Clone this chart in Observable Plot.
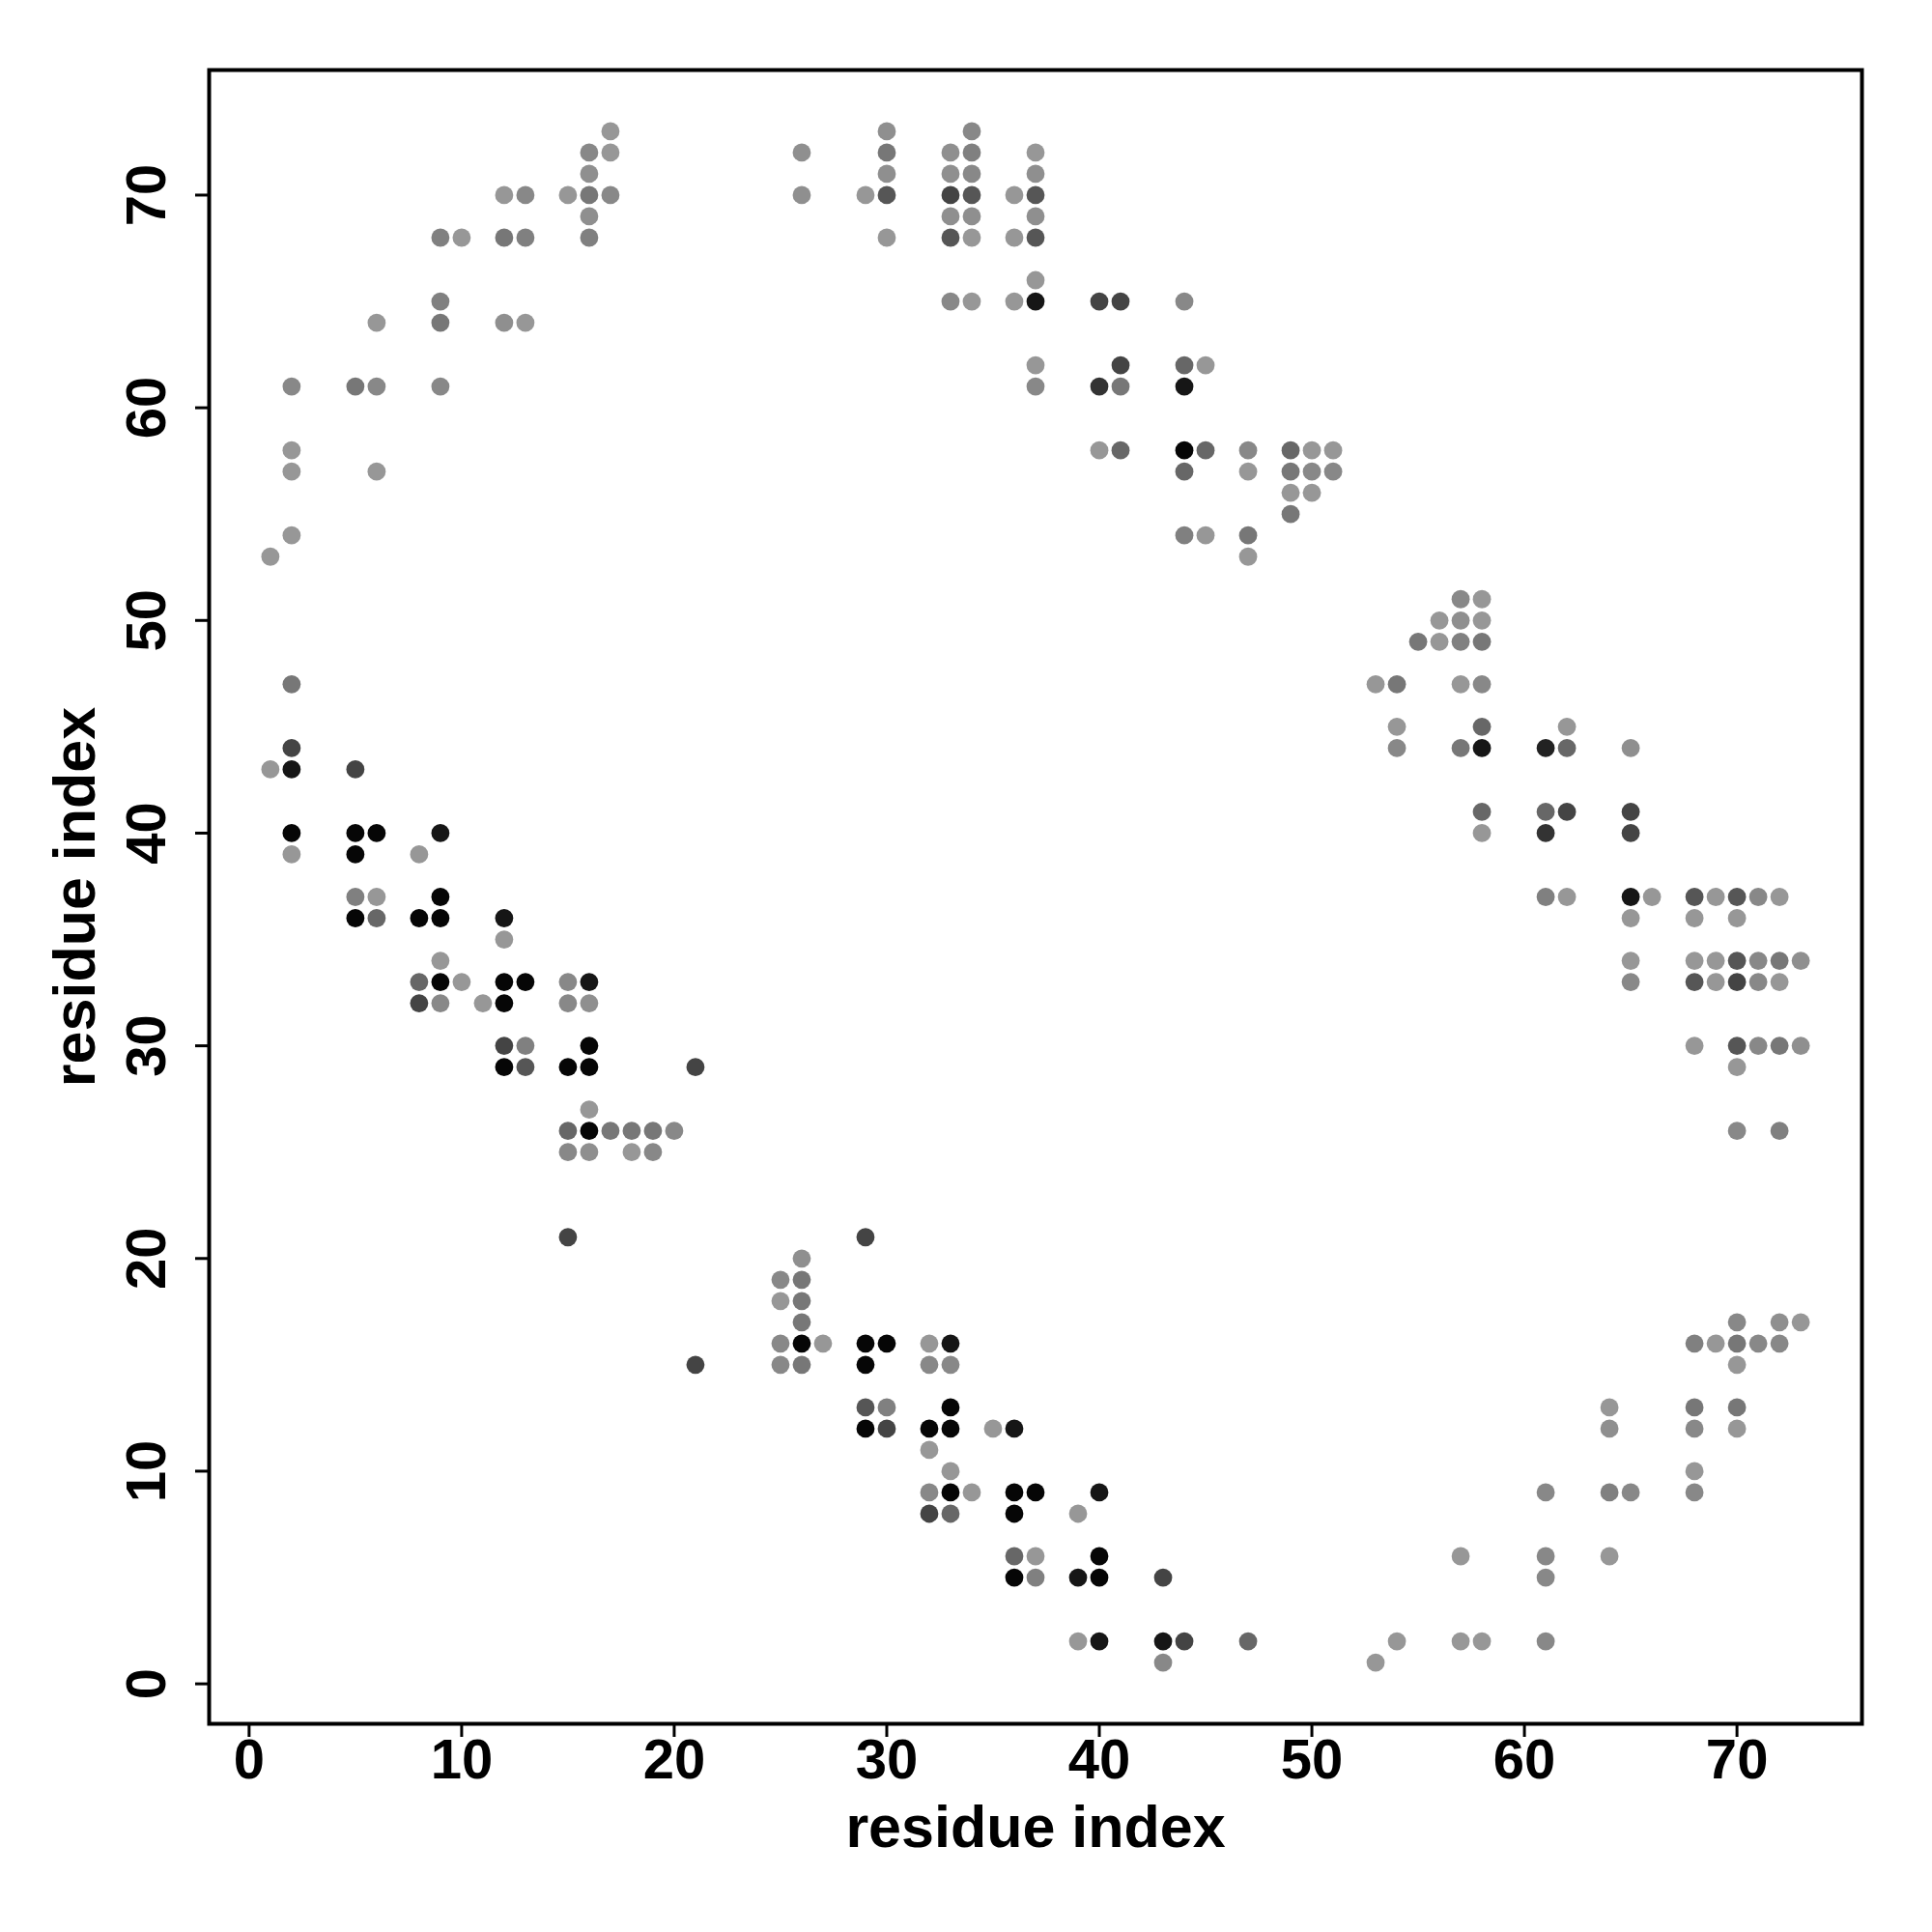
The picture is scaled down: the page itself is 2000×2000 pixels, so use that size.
<!DOCTYPE html>
<html>
<head>
<meta charset="utf-8">
<script src="https://cdn.jsdelivr.net/npm/d3@7"></script>
<script src="https://cdn.jsdelivr.net/npm/@observablehq/plot@0.6"></script>
<style>
  html, body { margin: 0; padding: 0; background: #ffffff; }
</style>
</head>
<body>
<div id="chart"></div>
<script>
// shade levels (contact strength, 0 = light grey, 1 = black)
const L = 0.02, ML = 0.07, M = 0.12, M2 = 0.17, D1 = 0.23, D2 = 0.33,
      D3 = 0.44, D4 = 0.56, D5 = 0.67, D6 = 0.78, K1 = 0.86, K = 0.96;

const residueI = [
  1,2,2,2,2,5,6,6,6,9,10,9,9,9,12,13,12,13,12,13,15,16,17,16,17,17,16,16,16,
  1,2,2,2,2,2,5,5,6,5,5,6,5,6,8,9,9,8,9,9,8,9,10,8,9,11,12,12,12,13,12,12,13,12,13,15,16,15,16,15,16,16,21,16,15,16,17,18,19,20,15,16,18,19,15,
  26,26,29,30,30,30,30,30,33,33,33,33,33,33,34,34,34,34,34,34,34,36,36,36,37,37,37,37,37,37,37,37,37,
  40,41,44,41,44,45,40,41,44,40,41,44,45,44,44,45,47,47,47,47,49,50,51,49,50,51,49,50,49,
  53,54,54,54,55,56,56,57,58,57,58,57,58,57,58,58,57,58,58,58,61,62,62,61,62,61,61,62,65,65,65,65,66,65,65,65,
  68,69,70,71,72,68,70,68,69,70,71,72,73,68,69,70,71,72,68,70,71,72,73,70,70,72,
  21,25,26,26,25,26,26,25,26,27,25,26,29,29,30,29,29,30,29,30,32,33,32,33,33,32,33,32,33,32,33,34,32,33,35,36,36,37,36,36,37,36,37,39,40,39,40,40,39,40,43,43,44,43,47,
  53,54,57,57,58,61,61,61,61,64,64,64,65,64,68,69,70,71,72,70,72,73,70,68,70,68,70,68,68
];

const residueJ = [
  53,61,58,57,54,61,61,64,57,68,68,65,64,61,70,70,68,68,64,64,70,70,70,72,72,73,71,69,68,
  43,47,44,43,40,39,43,40,40,39,37,37,36,36,39,40,37,36,36,34,33,33,33,32,32,32,36,35,33,33,32,30,30,29,29,33,33,32,32,29,29,30,29,27,26,26,26,26,26,26,25,25,25,25,21,
  72,70,70,73,72,71,70,68,72,71,70,69,68,65,73,72,71,70,69,68,65,70,68,65,72,71,70,69,68,66,65,62,61,
  65,65,65,62,62,62,61,61,61,58,58,58,58,57,54,54,58,57,54,53,58,58,58,57,57,57,56,56,55,
  47,47,45,44,49,49,50,50,50,51,51,49,49,47,47,45,44,44,41,40,44,45,44,41,41,40,37,37,44,41,40,37,37,36,34,33,
  37,37,37,37,37,36,36,34,34,34,34,34,34,33,33,33,33,33,30,30,30,30,30,29,26,26,
  15,19,19,20,18,18,17,16,16,16,15,15,21,16,16,15,13,13,12,12,16,16,15,15,13,12,12,11,10,9,9,9,8,8,12,12,9,9,8,6,6,5,5,8,9,5,6,5,2,2,5,2,2,1,2,
  1,2,6,2,2,9,6,5,2,13,12,9,9,6,16,16,16,16,16,17,17,17,15,13,13,12,12,10,9
];

const contactScore = [
  L,M,L,L,L,D1,M,L,L,M2,L,M2,D1,M,L,M,D1,M2,ML,L,L,D1,M,M,L,L,ML,ML,M2,
  L,D1,D4,K1,K,L,D4,K,K,K,M2,L,K,D2,L,K1,K,K,K,L,D2,K,L,D4,M,L,K1,L,K,K,K,D4,M2,K,D3,M,K1,M,ML,K,K,K,D4,L,D2,K,D1,D1,D1,M,M,ML,L,M,D4,
  ML,ML,L,ML,D1,ML,D3,L,ML,ML,D4,ML,D3,M,M,M2,M,D3,ML,L,L,L,L,L,L,ML,D3,ML,D3,L,K1,L,M,
  D4,D4,M,D4,D2,L,D5,D1,K1,L,D2,K,D2,D2,M2,L,M,L,D1,L,D2,L,L,D1,M,M,L,L,D1,
  L,D1,L,M,D1,L,L,ML,L,M,L,M2,D1,L,M,D2,D1,K1,D2,L,D6,L,D2,D2,D4,D5,M2,L,ML,D4,D4,K1,L,L,L,M,
  D3,L,D3,M,L,L,L,L,L,D3,M,D1,ML,D3,L,D4,M,L,L,D3,M,D1,ML,L,M,M2,
  D4,M,D1,ML,L,D1,D1,M,K,L,M,D1,D4,K,K,K,D3,M2,K,D4,L,K1,M,M,K,K,K,L,L,M,K,L,D4,D2,L,K1,K,K,K,D2,L,K,M2,L,K1,K1,K,K,L,K1,D4,K1,D4,M,D2,
  L,L,L,L,L,M,M,M,M,L,ML,M2,M,L,M2,L,D1,M,M,M,ML,L,L,D1,D1,M,L,L,M
];

const xTicks = [0, 10, 20, 30, 40, 50, 60, 70];
const yTicks = [0, 10, 20, 30, 40, 50, 60, 70];
const axisTitle = "residue index";

const data = residueI.map((d, k) => ({i: d, j: residueJ[k], p: contactScore[k]}));

const chart = Plot.plot({
  width: 2000,
  height: 2000,
  marginLeft: 216,
  marginRight: 73,
  marginTop: 72,
  marginBottom: 216,
  style: {
    fontFamily: "'Liberation Sans', Arial, Helvetica, sans-serif",
    fontWeight: "bold",
    fontSize: "58px",
    background: "#ffffff",
    color: "#000000"
  },
  x: {domain: [-1.88, 75.88]},
  y: {domain: [-1.88, 75.88]},
  color: {type: "linear", domain: [0, 1], range: ["#9a9a9a", "#000000"]},
  marks: [
    Plot.dot(data, {x: "i", y: "j", r: 9.4, fill: "p"}),
    Plot.frame({stroke: "#000000", strokeWidth: 4}),
    Plot.axisX({
      ticks: xTicks, tickSize: 14, tickPadding: 1, strokeWidth: 3,
      fontSize: 58, fontWeight: "bold", label: null
    }),
    Plot.axisX({
      ticks: [], tickSize: 0,
      fontSize: 61, fontWeight: "bold",
      label: axisTitle, labelAnchor: "center", labelArrow: "none", labelOffset: 127
    }),
    Plot.axisY({
      ticks: yTicks, tickSize: 14, tickPadding: 32, strokeWidth: 3, tickRotate: -90,
      fontSize: 58, fontWeight: "bold", label: null
    }),
    Plot.axisY({
      ticks: [], tickSize: 0,
      fontSize: 61, fontWeight: "bold",
      label: axisTitle, labelAnchor: "center", labelArrow: "none", labelOffset: 162
    })
  ]
});
document.getElementById("chart").appendChild(chart);
</script>
</body>
</html>
